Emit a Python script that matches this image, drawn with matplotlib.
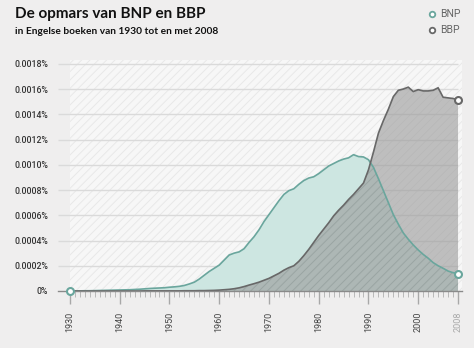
import numpy as np
import matplotlib
matplotlib.use("Agg")
import matplotlib.pyplot as plt
from matplotlib.lines import Line2D
from matplotlib.ticker import FixedLocator

plt.rcParams['hatch.linewidth'] = 0.7

# Share of all words in English books, in units of 0.0001 %
years = list(range(1930, 2009))
bnp = [0.00, 0.01, 0.01, 0.02, 0.02, 0.03, 0.04, 0.05, 0.06, 0.07,
       0.08, 0.09, 0.10, 0.12, 0.14, 0.17, 0.20, 0.22, 0.24, 0.26,
       0.30, 0.33, 0.37, 0.44, 0.56, 0.70, 0.95, 1.25, 1.55, 1.80,
       2.05, 2.45, 2.85, 3.00, 3.10, 3.35, 3.85, 4.30, 4.85, 5.50,
       6.05, 6.60, 7.15, 7.65, 7.95, 8.10, 8.45, 8.75, 8.95, 9.05,
       9.30, 9.60, 9.90, 10.10, 10.30, 10.45, 10.55, 10.80, 10.65, 10.62,
       10.40, 9.80, 8.90, 7.95, 7.00, 6.05, 5.30, 4.60, 4.10, 3.65,
       3.25, 2.90, 2.60, 2.25, 2.00, 1.80, 1.58, 1.45, 1.38]
bbp = [0.00, 0.00, 0.00, 0.00, 0.00, 0.00, 0.00, 0.00, 0.00, 0.00,
       0.00, 0.00, 0.00, 0.00, 0.00, 0.01, 0.01, 0.01, 0.01, 0.01,
       0.01, 0.01, 0.01, 0.02, 0.02, 0.02, 0.03, 0.03, 0.04, 0.05,
       0.07, 0.10, 0.13, 0.18, 0.25, 0.35, 0.47, 0.58, 0.70, 0.85,
       1.00, 1.20, 1.40, 1.65, 1.85, 2.00, 2.35, 2.80, 3.30, 3.85,
       4.40, 4.90, 5.40, 5.95, 6.40, 6.80, 7.25, 7.65, 8.10, 8.55,
       9.60, 11.00, 12.50, 13.50, 14.40, 15.40, 15.90, 16.00, 16.15, 15.80,
       15.95, 15.85, 15.85, 15.90, 16.10, 15.35, 15.30, 15.25, 15.15]

series_names = ["BNP", "BBP"]
y_ticks = [0, 2, 4, 6, 8, 10, 12, 14, 16, 18]
y_tick_labels = ["0%", "0.0002%", "0.0004%", "0.0006%", "0.0008%",
                 "0.0010%", "0.0012%", "0.0014%", "0.0016%", "0.0018%"]
x_major = [1930, 1940, 1950, 1960, 1970, 1980, 1990, 2000, 2008]

BG = "#efeeee"
TEAL_LINE = "#6aa69d"
TEAL_FILL = "#cde6e1"
GRAY_LINE = "#686868"
GRAY_FILL = "#999999"

x = np.array(years)
y1 = np.array(bnp)
y2 = np.array(bbp)

fig = plt.figure(figsize=(4.74, 3.48), dpi=100, facecolor=BG)
ax = fig.add_axes([58 / 474, 57 / 348, 404 / 474, 231 / 348])
ax.set_facecolor(BG)

xmin, xmax = 1927.6, 2008.8
ytop = 18.3
ax.set_xlim(xmin, xmax)
ax.set_ylim(0, ytop)

# hatched plotting field
ax.fill_between([1930, xmax], 0, ytop, facecolor="#f7f7f7",
                edgecolor="#e8e8e8", hatch="////", linewidth=0, zorder=0)

# horizontal grid
for t in y_ticks[1:]:
    ax.plot([xmin, 2008], [t, t], color="#dadada", lw=1.0, zorder=1,
            solid_capstyle="butt")

# areas
ax.fill_between(x, 0, y1, facecolor=TEAL_FILL, linewidth=0, zorder=2)
ax.fill_between(x, 0, y2, facecolor=GRAY_FILL, alpha=0.6, linewidth=0, zorder=3)
ax.fill_between(x, 0, np.minimum(y1, y2), facecolor="none",
                edgecolor="#9aa5a3", hatch="////", linewidth=0, zorder=3.5)

ax.plot(x, y1, color=TEAL_LINE, lw=1.2, zorder=4)
ax.plot(x, y2, color=GRAY_LINE, lw=1.2, zorder=5)

# end markers
ax.plot([x[0]], [y1[0]], "o", ms=5, mfc="white", mec=TEAL_LINE, mew=1.5,
        zorder=8, clip_on=False)
ax.plot([x[-1]], [y2[-1]], "o", ms=5, mfc="white", mec=GRAY_LINE, mew=1.5,
        zorder=8, clip_on=False)
ax.plot([x[-1]], [y1[-1]], "o", ms=5, mfc="white", mec=TEAL_LINE, mew=1.5,
        zorder=8, clip_on=False)

# axes styling
for s in ["top", "right", "left"]:
    ax.spines[s].set_visible(False)
ax.spines["bottom"].set_color("#8a8a8a")
ax.spines["bottom"].set_linewidth(1.0)
ax.spines["bottom"].set_zorder(6)

ax.set_yticks(y_ticks)
ax.set_yticklabels(y_tick_labels, fontsize=6.3, color="#333333",
                   family="Roboto", fontweight="medium")
ax.tick_params(axis="y", length=0, pad=7)

ax.xaxis.set_major_locator(FixedLocator(x_major))
ax.xaxis.set_minor_locator(FixedLocator([y for y in years if y not in x_major]))
ax.set_xticklabels([str(v) for v in x_major], rotation=90, fontsize=6.5,
                   color="#444444", family="Roboto")
ax.get_xticklabels()[-1].set_color("#aaaaaa")
ax.tick_params(axis="x", which="major", length=9.5, width=1.0, color="#a8a8a8",
               pad=5.5)
ax.tick_params(axis="x", which="minor", length=4, width=0.6, color="#b0b0b0")

# titles
fig.text(15 / 474, 1 - 14 / 348, "De opmars van BNP en BBP", fontsize=11,
         fontweight="bold", family="Lato", color="#111111", va="center")
fig.text(15 / 474, 1 - 31 / 348, "in Engelse boeken van 1930 tot en met 2008",
         fontsize=7.3, fontweight="bold", family="Lato", color="#111111",
         va="center")

# legend
for i, (name, col) in enumerate(zip(series_names, [TEAL_LINE, GRAY_LINE])):
    yy = 1 - (14 + 16 * i) / 348
    fig.add_artist(Line2D([432 / 474], [yy], marker="o", ms=4, mfc="white",
                          mec=col, mew=1.3, transform=fig.transFigure))
    fig.text(440 / 474, yy, name, fontsize=7.5, color="#666666",
             family="Roboto", va="center")

fig.savefig("out.png", dpi=100, facecolor=BG)
